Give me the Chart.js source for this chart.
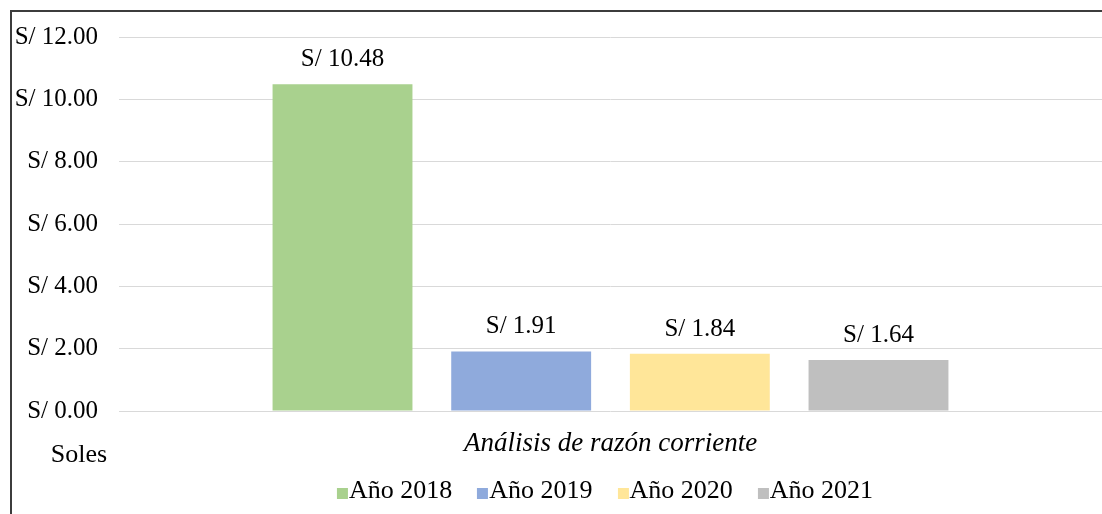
<!DOCTYPE html>
<html>
<head>
<meta charset="utf-8">
<script src="https://cdn.jsdelivr.net/npm/chart.js@4.4.0/dist/chart.umd.min.js"></script>
<style>
  html, body { margin: 0; padding: 0; background: #fff; }
  #wrap { position: relative; width: 1102px; height: 514px; overflow: hidden; }
  #frame { position: absolute; left: 10px; top: 10px; width: 1100px; height: 510px;
           border-top: 2px solid #3c3c3c; border-left: 2px solid #3c3c3c; pointer-events: none; }
  #legend { position: absolute; left: 605px; top: 475px; transform: translateX(-50%); white-space: nowrap; display: flex;
            font-family: "Liberation Serif", "Times New Roman", serif; font-size: 26px; line-height: 30px; color: #000; }
  #legend .item { display: flex; align-items: center; margin-right: 25px; }
  #legend .item:last-child { margin-right: 0; }
  #legend .box { width: 11px; height: 11px; margin-right: 1px; display: inline-block; position: relative; top: 3px; }
</style>
</head>
<body>
<div id="wrap">
  <canvas id="c" width="1102" height="514"></canvas>
  <div id="frame"></div>
  <div id="legend"></div>
</div>
<script>
const categories = ['Análisis de razón corriente'];
const seriesNames = ['Año 2018', 'Año 2019', 'Año 2020', 'Año 2021'];
const seriesValues = [10.48, 1.91, 1.84, 1.64];
const seriesColors = ['#A9D18E', '#8FAADC', '#FFE699', '#BFBFBF'];
const yTicks = [0, 2, 4, 6, 8, 10, 12];
const yAxisTitle = 'Soles';

const FONT = '"Liberation Serif", "Times New Roman", serif';

const datasets = seriesNames.map((n, i) => ({
  label: n,
  data: [seriesValues[i]],
  backgroundColor: seriesColors[i],
  borderWidth: 0,
  categoryPercentage: 0.727,
  barPercentage: 0.783
}));

const valueLabels = {
  id: 'valueLabels',
  afterDatasetsDraw(chart) {
    const ctx = chart.ctx;
    ctx.save();
    ctx.font = '25px ' + FONT;
    ctx.fillStyle = '#000';
    ctx.textAlign = 'center';
    ctx.textBaseline = 'alphabetic';
    chart.data.datasets.forEach((ds, i) => {
      const meta = chart.getDatasetMeta(i);
      meta.data.forEach((el, j) => {
        ctx.fillText('S/ ' + ds.data[j].toFixed(2), el.x, el.y - 18);
      });
    });
    // y-axis unit label placed below axis
    const y = chart.scales.y;
    ctx.font = '26px ' + FONT;
    ctx.fillText(yAxisTitle, 79, y.bottom + 51);
    ctx.restore();
  }
};

const chart = new Chart(document.getElementById('c'), {
  type: 'bar',
  data: { labels: categories, datasets },
  options: {
    responsive: false,
    animation: false,
    devicePixelRatio: 1,
    layout: { padding: { left: 0, right: 0, top: 37, bottom: 43 } },
    plugins: { legend: { display: false }, tooltip: { enabled: false } },
    scales: {
      x: {
        grid: { display: false, drawTicks: false },
        border: { display: false },
        ticks: { color: '#000', padding: 17, font: { family: FONT, size: 27, style: 'italic' } },
        afterFit(s) { s.height = 60; }
      },
      y: {
        min: 0, max: 12,
        afterBuildTicks(s) { s.ticks = yTicks.map(v => ({ value: v })); },
        grid: { color: '#d9d9d9', lineWidth: 1, drawTicks: false },
        border: { display: false },
        ticks: {
          color: '#000', padding: 21,
          font: { family: FONT, size: 25 },
          callback: v => 'S/ ' + Number(v).toFixed(2)
        },
        afterFit(s) { s.width = 119; }
      }
    }
  },
  plugins: [valueLabels]
});

const legend = document.getElementById('legend');
chart.data.datasets.forEach(ds => {
  const it = document.createElement('span');
  it.className = 'item';
  const b = document.createElement('span');
  b.className = 'box';
  b.style.background = ds.backgroundColor;
  it.appendChild(b);
  it.appendChild(document.createTextNode(ds.label));
  legend.appendChild(it);
});
</script>
</body>
</html>
